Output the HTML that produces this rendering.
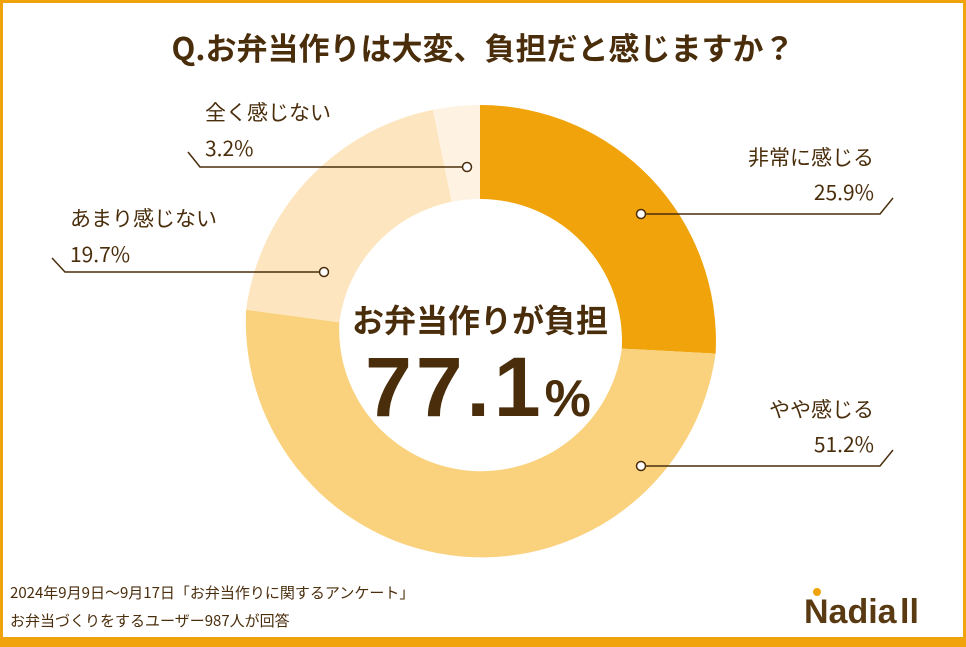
<!DOCTYPE html>
<html><head><meta charset="utf-8"><style>
html,body{margin:0;padding:0;}
body{width:966px;height:647px;background:#f0a30a;position:relative;overflow:hidden;font-family:"Liberation Sans","Noto Sans CJK JP",sans-serif;color:#4a2e0c;}
.inner{position:absolute;left:3px;top:3px;width:960px;height:634px;background:#fff;}
svg{position:absolute;left:0;top:0;}
</style></head><body>
<div class="inner"></div>
<svg width="966" height="647" viewBox="0 0 966 647">
<g font-family="'Noto Sans CJK JP',sans-serif" fill="#4a2e0c">
<text x="483" y="60" text-anchor="middle" font-size="31" font-weight="700">Q.お弁当作りは大変、負担だと感じますか？</text>
</g>
<path d="M480,105 A236,236 0 0 1 715.6,353.6 L621.8,348.6 A142,142 0 0 0 480,199 Z" fill="#f0a30a"/>
<path d="M715.6,353.6 A236,236 0 0 1 246.1,309.7 L339.3,322.3 A142,142 0 0 0 621.8,348.6 Z" fill="#fad27e"/>
<path d="M246.1,309.7 A236,236 0 0 1 433,109.7 L451.7,201.8 A142,142 0 0 0 339.3,322.3 Z" fill="#fde6bf"/>
<path d="M433,109.7 A236,236 0 0 1 480,105 L480,199 A142,142 0 0 0 451.7,201.8 Z" fill="#fef3e3"/>
<g stroke="#4a2e0c" stroke-width="1.5" fill="none">
<polyline points="641,214 880,214 893,198"/>
<polyline points="641,466 880,466 893,450"/>
<polyline points="324,272 65,272 52,258"/>
<polyline points="467,167 200,167 188,152"/>
</g>
<g fill="#fff" stroke="#4a2e0c" stroke-width="1.5">
<circle cx="641" cy="214" r="4.5"/><circle cx="641" cy="466" r="4.5"/>
<circle cx="324" cy="272" r="4.5"/><circle cx="467" cy="167" r="4.5"/>
</g>
<g font-family="'Noto Sans CJK JP',sans-serif" fill="#4a2e0c" font-size="21">
<text x="874" y="165" text-anchor="end">非常に感じる</text>
<text x="874" y="200" text-anchor="end">25.9%</text>
<text x="874" y="417" text-anchor="end">やや感じる</text>
<text x="874" y="452" text-anchor="end">51.2%</text>
<text x="70" y="226">あまり感じない</text>
<text x="70" y="262">19.7%</text>
<text x="205" y="120">全く感じない</text>
<text x="205" y="156">3.2%</text>
<text x="480" y="332" text-anchor="middle" font-size="32" font-weight="700">お弁当作りが負担</text>
<text x="478" y="416" text-anchor="middle" font-size="84" font-weight="900" letter-spacing="4" font-family="'Liberation Sans',sans-serif">77.1<tspan font-size="52" letter-spacing="0">%</tspan></text>
<text x="10" y="598" font-size="15">2024年9月9日～9月17日「お弁当作りに関するアンケート」</text>
<text x="10" y="626" font-size="15">お弁当づくりをするユーザー987人が回答</text>
<text x="804" y="623" font-size="34" font-weight="700" fill="#5a3a12" font-family="'Liberation Sans',sans-serif">Nadia</text>
<text x="900" y="623" font-size="34" font-weight="700" fill="#5a3a12" font-family="'Liberation Sans',sans-serif">ll</text>
</g>
<circle cx="817" cy="592" r="4" fill="#f0a30a"/>
</svg>
</body></html>
